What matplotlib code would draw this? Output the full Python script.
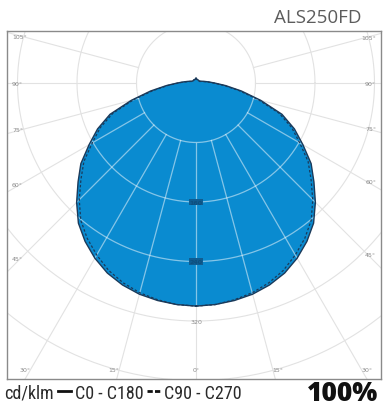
import numpy as np
import matplotlib
matplotlib.use('Agg')
import matplotlib.pyplot as plt
from matplotlib.patches import Polygon
from matplotlib.lines import Line2D
from matplotlib import font_manager

# photometric data, cd/klm, angle from nadir (deg)
gamma = [0, 5, 10, 15, 20, 25, 30, 35, 40, 45, 50, 55, 60, 65, 70, 75, 80, 85, 90,
         95, 100, 105, 110, 115, 120, 125, 130, 135, 140, 145, 150, 155, 160, 165, 170, 175, 180]
c0_c180 = [300, 299, 297, 294, 289, 282, 272, 260, 246, 227, 207, 189, 166, 146, 123, 90, 62, 40, 25,
           17, 12, 9, 7, 6, 5, 5, 5, 5, 5, 5, 5, 5, 5, 5, 5, 6, 7]
c90_c270 = [300, 299, 296, 292, 286, 278, 267, 255, 241, 222, 202, 184, 161, 142, 119, 87, 59, 38, 24,
            16, 11, 8, 6, 5, 5, 5, 5, 5, 5, 5, 5, 5, 5, 5, 5, 6, 7]

ring_values = [80, 160, 240, 320, 400, 480]
ring_labels = ['160', '240', '320']
ray_angles = [-105, -90, -75, -60, -45, -30, -15, 0, 15, 30, 45, 60, 75, 90, 105]

title = 'ALS250FD'
unit_label = 'cd/klm'
legend_solid = 'C0 - C180'
legend_dashed = 'C90 - C270'
flux_label = '100%'

BLUE = '#0a8bd0'
EDGE = '#1b3a5a'
GRID = '#e2e2e2'


def pick_narrow():
    # first condensed face that is really installed
    for fam in ['Liberation Sans Narrow', 'Roboto Condensed', 'Open Sans Condensed', 'Noto Sans Condensed']:
        try:
            font_manager.findfont(font_manager.FontProperties(family=fam), fallback_to_default=False)
            return dict(family=fam), 13
        except Exception:
            pass
    path = font_manager.findfont(font_manager.FontProperties(family='DejaVu Sans', stretch='condensed'))
    if 'Condensed' in path:
        return dict(family='DejaVu Sans', stretch='condensed'), 12
    return dict(family='DejaVu Sans'), 10.5


def to_xy(angles, values):
    # full symmetric curve: right half then mirrored left half
    a = np.radians(np.array(angles, dtype=float))
    v = np.array(values, dtype=float)
    xr, yr = v * np.sin(a), -v * np.cos(a)
    x = np.concatenate([xr, -xr[::-1]])
    y = np.concatenate([yr, yr[::-1]])
    return x, y


W, H = 384, 410
fig = plt.figure(figsize=(W / 100, H / 100), dpi=100)
fig.patch.set_facecolor('white')

# axes frame in pixels: left 7, right 381, top 32, bottom 380
k = 80 / 59.5
ax = fig.add_axes([7 / W, 1 - 380 / H, 374 / W, 348 / H])
xmin, xmax = (7 - 196) * k, (381 - 196) * k
ymin, ymax = -(380 - 84) * k, (84 - 32) * k
ax.set_xlim(xmin, xmax)
ax.set_ylim(ymin, ymax)
ax.set_xticks([])
ax.set_yticks([])
for s in ax.spines.values():
    s.set_color('#8a8a8a')
    s.set_linewidth(1.0)

t = np.linspace(0, 2 * np.pi, 361)


def draw_grid(color, lw, alpha=1.0, clip=None, z=1):
    arts = []
    for r in ring_values:
        arts += ax.plot(r * np.cos(t), r * np.sin(t), color=color, lw=lw, alpha=alpha, zorder=z)
    for ang in ray_angles:
        a = np.radians(ang)
        arts += ax.plot([80 * np.sin(a), 800 * np.sin(a)], [-80 * np.cos(a), -800 * np.cos(a)],
                        color=color, lw=lw, alpha=alpha, zorder=z)
    if clip is not None:
        for art in arts:
            art.set_clip_path(clip)


draw_grid(GRID, 0.8)

x0, y0 = to_xy(gamma, c0_c180)
x1, y1 = to_xy(gamma, c90_c270)

blob = Polygon(np.column_stack([x0, y0]), closed=True, facecolor=BLUE, edgecolor='none', zorder=2)
ax.add_patch(blob)
draw_grid('white', 0.9, alpha=0.5, clip=blob, z=3)

ax.plot(x1, y1, color=EDGE, lw=0.9, linestyle=(0, (2, 1.6)), zorder=4)
ax.plot(np.append(x0, x0[0]), np.append(y0, y0[0]), color=EDGE, lw=1.0, zorder=5)

# ring labels on the nadir ray
for lab in ring_labels:
    r = float(lab)
    inside = r < c0_c180[0]
    ax.text(0, -r, lab, ha='center', va='center', fontsize=4.5,
            color='#0d4f7e' if inside else '#8a8a8a',
            fontweight='bold' if inside else 'normal', zorder=6,
            bbox=dict(boxstyle='square,pad=0.15', fc='#0f5d92', ec='none') if inside else None)

# angle labels where rays meet the frame
pad_x = 14 * k
pad_y = 10 * k
for ang in ray_angles:
    a = np.radians(ang)
    dx, dy = np.sin(a), -np.cos(a)
    lab = f'{abs(ang)}°'
    side_x = xmin if dx < 0 else xmax
    hits_side = ang != 0 and ymin < side_x / dx * dy < ymax
    if hits_side:
        xs = xmin + pad_x if dx < 0 else xmax - pad_x
        ys = xs / dx * dy
        ax.text(xmin + 5 * k if dx < 0 else xmax - 5 * k, ys, lab,
                ha='left' if dx < 0 else 'right', va='center', fontsize=4.5, color='#8a8a8a')
    else:
        ys = ymin + pad_y
        xs = ys / dy * dx
        ha = 'center' if ang == 0 else ('right' if ang < 0 else 'left')
        ax.text(xs, ys, lab, ha=ha, va='center', fontsize=4.5, color='#8a8a8a')

# title
fig.text(362 / W, 1 - 18 / H, title, ha='right', va='center', fontsize=13.5,
         family=['Open Sans', 'DejaVu Sans'], color='#5c5c5c')

# bottom legend row, pieces placed one after the other
yb = 1 - 394 / H
font_kw, fs = pick_narrow()
renderer = fig.canvas.get_renderer()
xpos = 4
gap = 4
seg = 13


def put_text(s, x):
    txt = fig.text(x / W, yb, s, ha='left', va='center', fontsize=fs, color='#2a2a2a', **font_kw)
    return x + txt.get_window_extent(renderer).width


xpos = put_text(unit_label, xpos) + gap
fig.add_artist(Line2D([xpos / W, (xpos + seg) / W], [yb + 0.004] * 2, color='#111111', lw=2.0))
xpos = put_text(legend_solid, xpos + seg + gap) + gap
fig.add_artist(Line2D([xpos / W, (xpos + seg) / W], [yb + 0.004] * 2, color='#111111', lw=2.0,
                      linestyle=(0, (1.9, 0.8))))
put_text(legend_dashed, xpos + seg + gap)

fig.text(378 / W, yb, flux_label, ha='right', va='center', fontsize=19, fontweight='heavy',
         family=['Open Sans', 'DejaVu Sans'], color='#111111')

fig.savefig('out.png', dpi=100, facecolor='white')
